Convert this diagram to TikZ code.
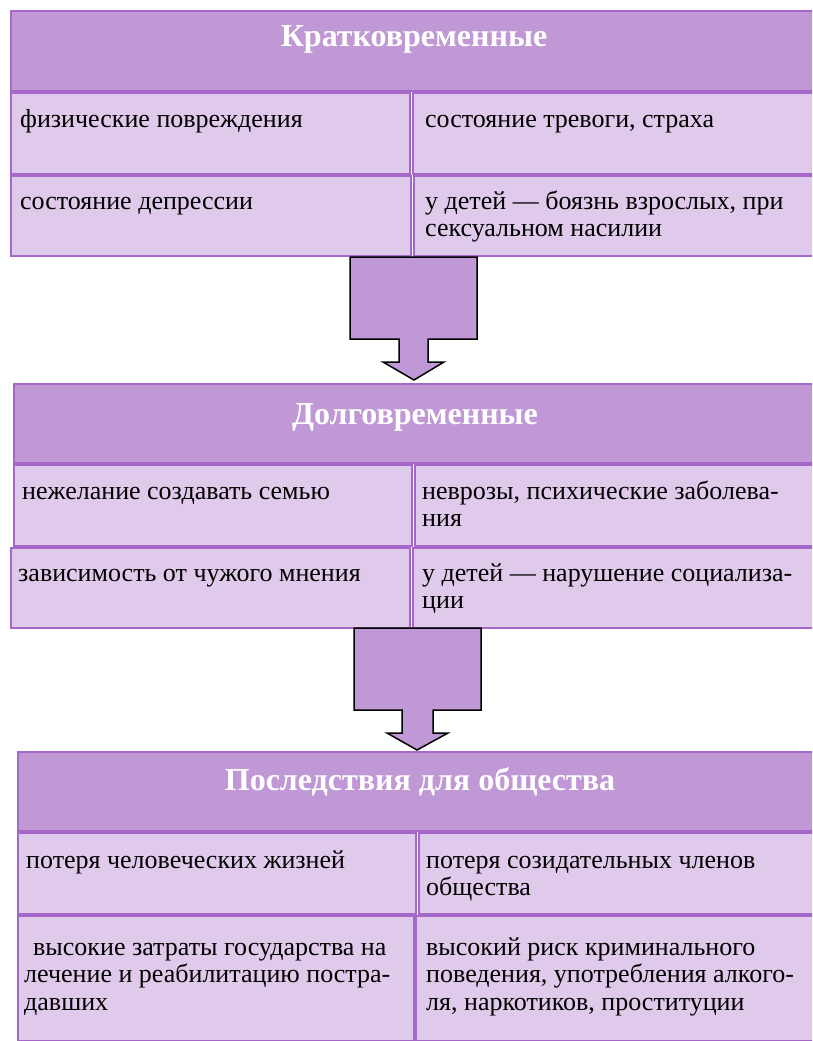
\documentclass[tikz,border=0pt]{standalone}
\usepackage{fontspec}
\setmainfont{Liberation Serif}
\definecolor{hdrc}{HTML}{C198D6}
\definecolor{bordc}{HTML}{A568C8}
\definecolor{cellc}{HTML}{E0CAEB}
\newcommand{\cellfont}{\fontsize{26}{27.7}\selectfont}
\newcommand{\hdrfont}{\fontsize{32}{36}\selectfont\bfseries}
\newcommand{\ct}[1]{\parbox[t]{395pt}{\raggedright #1}}
\tikzset{
  hdr/.style={draw=bordc, fill=hdrc, line width=2pt, anchor=north west, inner sep=0pt},
  cell/.style={draw=bordc, fill=cellc, line width=2pt, anchor=north west, inner sep=0pt},
  ctext/.style={anchor=base west, inner sep=0pt, font=\cellfont},
  htext/.style={anchor=base, inner sep=0pt, font=\hdrfont, text=white},
  blockarrow/.style={draw=black, fill=hdrc, line width=1.5pt, line join=miter}
}
\begin{document}
\begin{tikzpicture}[x=1pt,y=-1pt]
\useasboundingbox[fill=white] (0,0) rectangle (812,1041);
\begin{scope}
\clip (0,0) rectangle (812,1041);
% ---- Section 1
\node[hdr, minimum width=805pt, minimum height=80pt] (h1) at (10,10) {};
\node[htext] (h1t) at (414,47) {Кратковременные};
\node[cell, minimum width=399pt, minimum height=81pt] (s1a) at (10,92) {};
\node[cell, minimum width=403pt, minimum height=81pt] (s1b) at (412,92) {};
\node[cell, minimum width=400pt, minimum height=80pt] (s1c) at (10,175) {};
\node[cell, minimum width=402pt, minimum height=80pt] (s1d) at (413,175) {};
\node[ctext] (t1a) at (20,127) {\ct{физические повреждения}};
\node[ctext] (t1b) at (425,127) {\ct{состояние тревоги, страха}};
\node[ctext] (t1c) at (20,209) {\ct{состояние депрессии}};
\node[ctext] (t1d) at (425,209) {\ct{у детей — боязнь взрослых, при\\сексуальном насилии}};
% ---- Arrow 1
\coordinate (ar1) at (414,380);
\draw[blockarrow] (350,257) -- (477,257) -- (477,339) -- (428,339) -- (428,362) -- (444,362) -- (ar1) -- (383,362) -- (399,362) -- (399,339) -- (350,339) -- cycle;
% ---- Section 2
\node[hdr, minimum width=802pt, minimum height=79pt] (h2) at (13,383) {};
\node[htext] (h2t) at (415,424) {Долговременные};
\node[cell, minimum width=398pt, minimum height=81pt] (s2a) at (13,464) {};
\node[cell, minimum width=401pt, minimum height=81pt] (s2b) at (414,464) {};
\node[cell, minimum width=399pt, minimum height=80pt] (s2c) at (10,547) {};
\node[cell, minimum width=403pt, minimum height=80pt] (s2d) at (412,547) {};
\node[ctext] (t2a) at (22,499) {\ct{нежелание создавать семью}};
\node[ctext] (t2b) at (422,499) {\ct{неврозы, психические заболева-\\ния}};
\node[ctext] (t2c) at (18,581) {\ct{зависимость от чужого мнения}};
\node[ctext] (t2d) at (422,581) {\ct{у детей — нарушение социализа-\\ции}};
% ---- Arrow 2
\coordinate (ar2) at (417,750);
\draw[blockarrow] (354,628) -- (481,628) -- (481,710) -- (433,710) -- (433,733) -- (448,733) -- (ar2) -- (387,733) -- (402,733) -- (402,710) -- (354,710) -- cycle;
% ---- Section 3
\node[hdr, minimum width=798pt, minimum height=79pt] (h3) at (17,751) {};
\node[htext] (h3t) at (420,790) {Последствия для общества};
\node[cell, minimum width=398pt, minimum height=81pt] (s3a) at (17,832) {};
\node[cell, minimum width=397pt, minimum height=81pt] (s3b) at (418,832) {};
\node[cell, minimum width=396pt, minimum height=125pt] (s3c) at (17,915) {};
\node[cell, minimum width=400pt, minimum height=125pt] (s3d) at (415,915) {};
\node[ctext] (t3a) at (26,868) {\ct{потеря человеческих жизней}};
\node[ctext] (t3b) at (426,868) {\ct{потеря созидательных членов\\общества}};
\node[ctext] (t3c) at (24,955) {\ct{\hspace*{9pt}высокие затраты государства на\\лечение и реабилитацию постра-\\давших}};
\node[ctext] (t3d) at (426,955) {\ct{высокий риск криминального\\поведения, употребления алкого-\\ля, наркотиков, проституции}};
\end{scope}
\end{tikzpicture}
\end{document}
